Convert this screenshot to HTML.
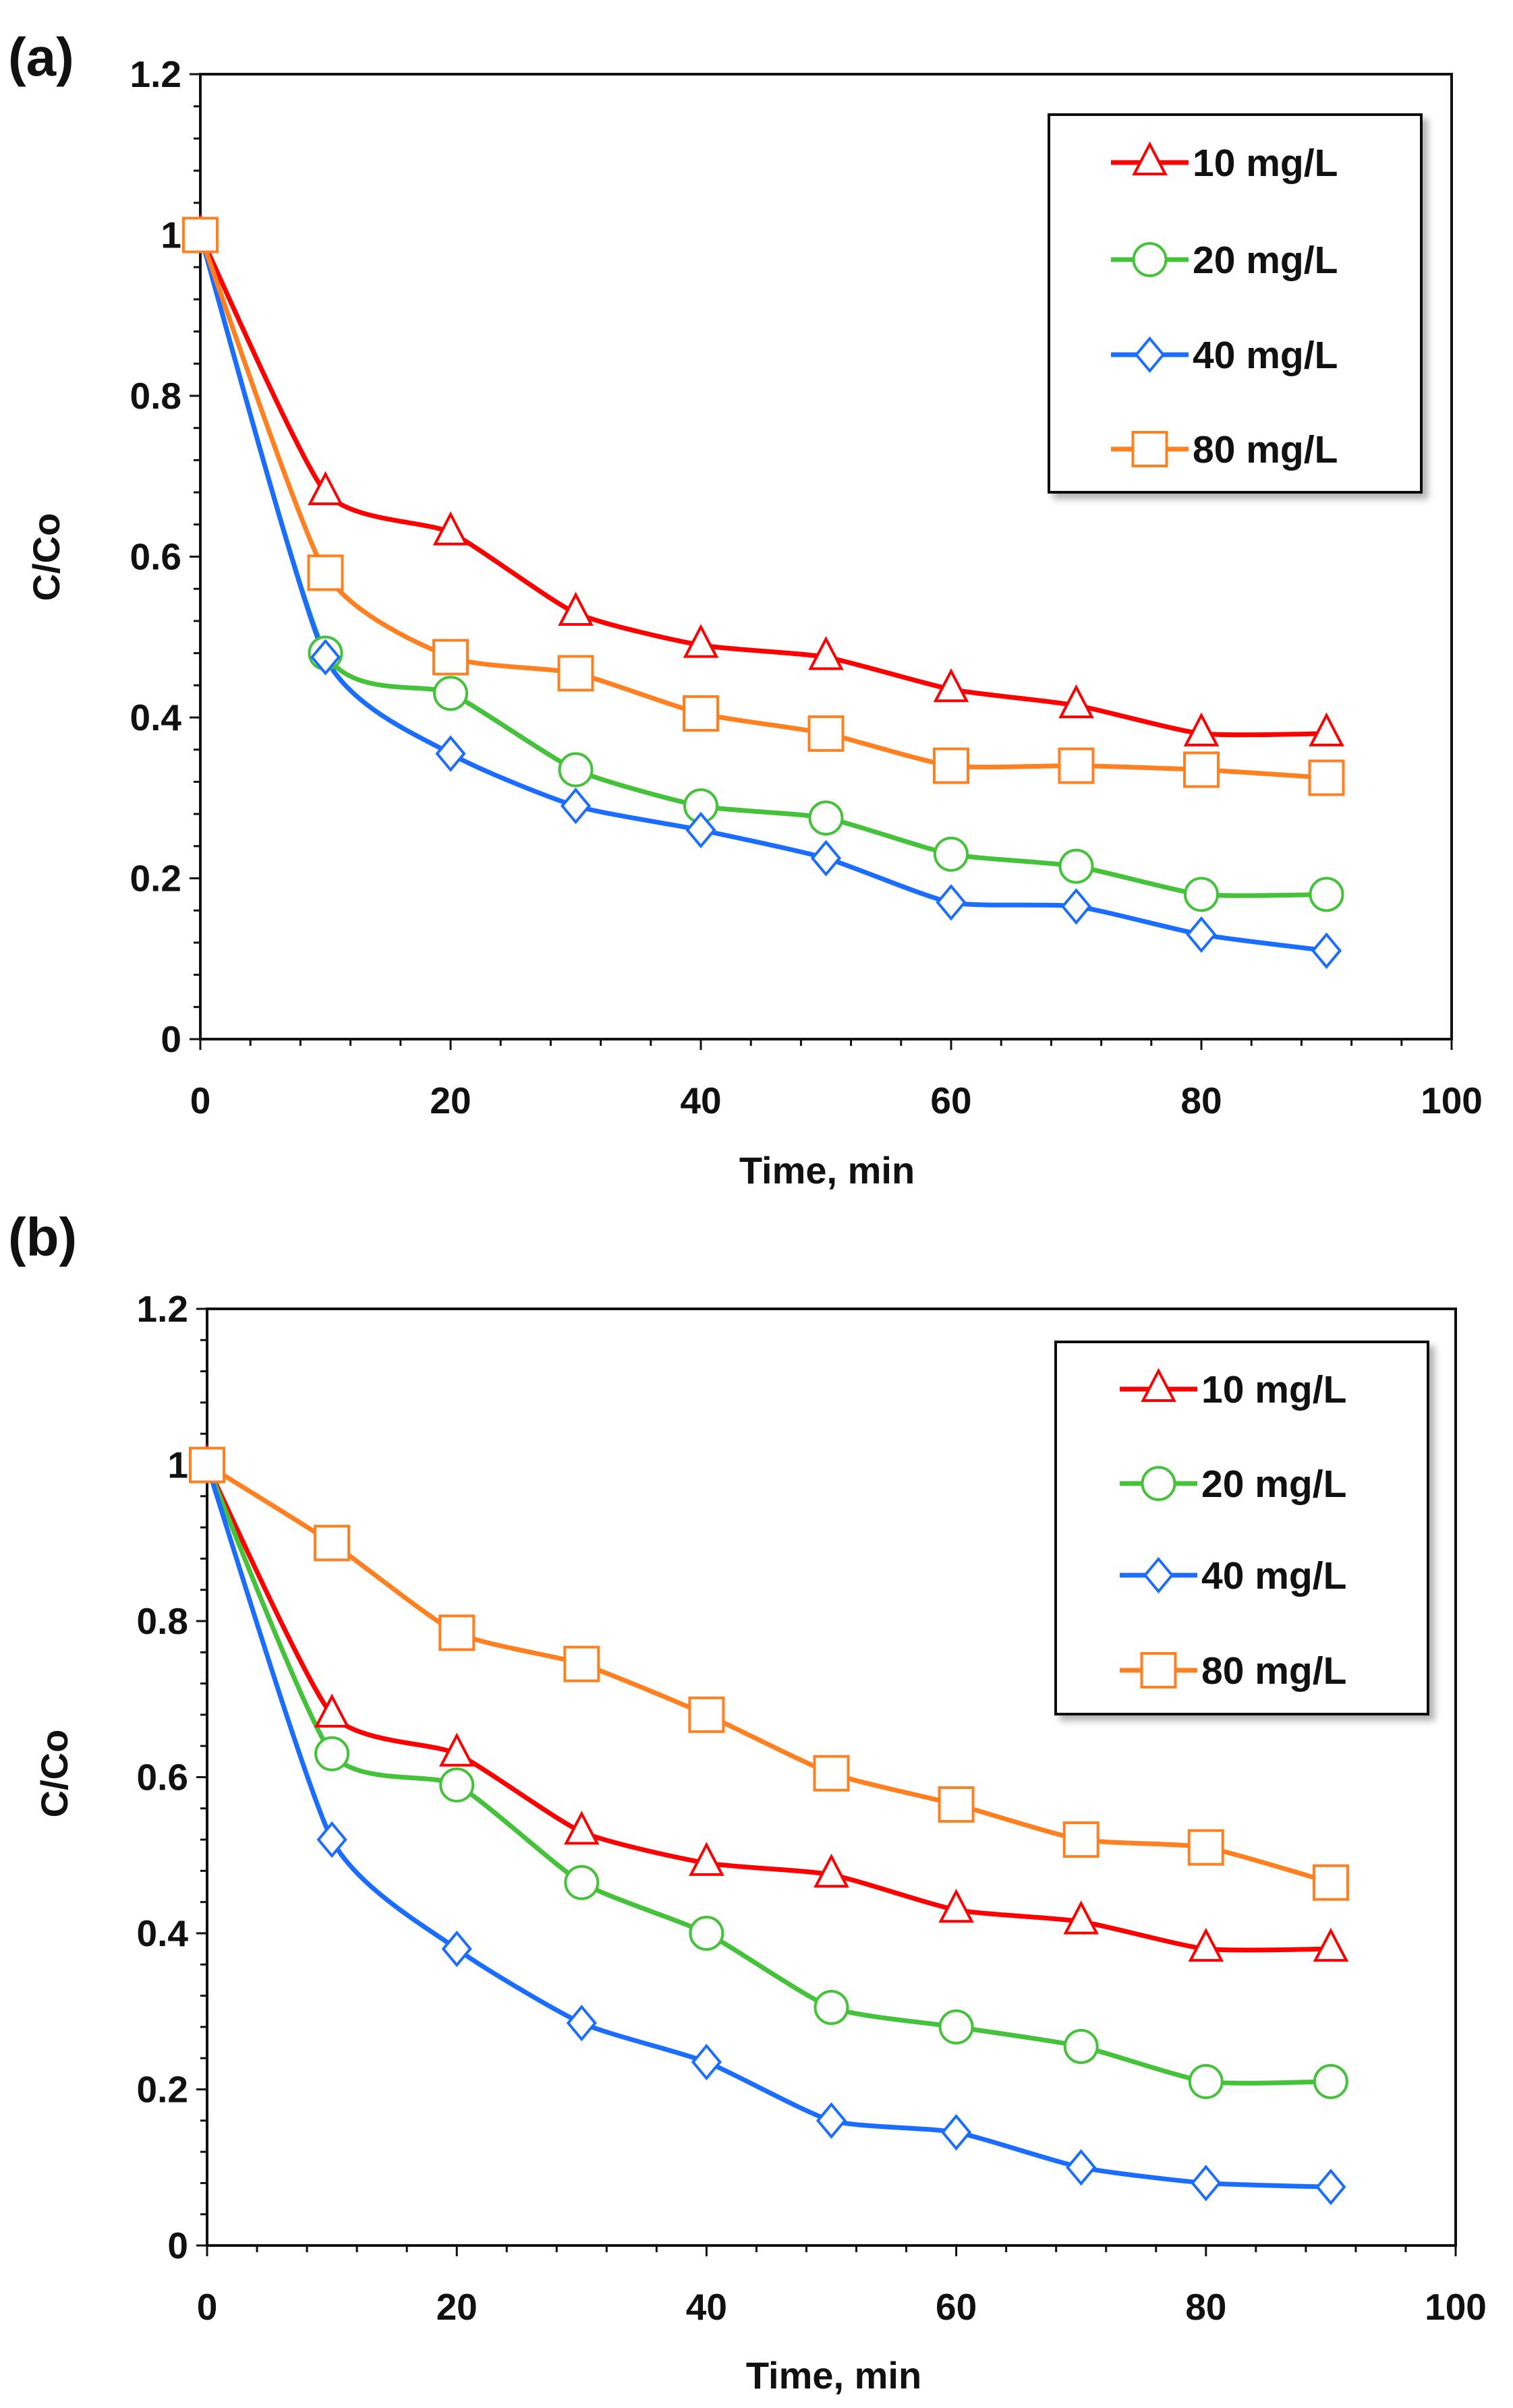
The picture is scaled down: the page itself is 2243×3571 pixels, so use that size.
<!DOCTYPE html>
<html><head><meta charset="utf-8"><style>
html,body{margin:0;padding:0;background:#fff}
svg{display:block}
text{font-family:"Liberation Sans",sans-serif;font-weight:bold;fill:#111}
</style></head><body>
<svg id="fig" xmlns="http://www.w3.org/2000/svg" width="2243" height="3571" viewBox="0 0 2243 3571">
<defs><filter id="sh" x="-10%" y="-10%" width="130%" height="130%"><feDropShadow dx="8" dy="8" stdDeviation="5" flood-color="#000" flood-opacity="0.3"/></filter></defs>
</svg>
<script>
const times = [0,10,20,30,40,50,60,70,80,90];
const seriesNames = ["10 mg/L","20 mg/L","40 mg/L","80 mg/L"];
const a10 = [1,0.68,0.63,0.53,0.49,0.475,0.435,0.415,0.38,0.38];
const a20 = [1,0.48,0.43,0.335,0.29,0.275,0.23,0.215,0.18,0.18];
const a40 = [1,0.475,0.355,0.29,0.26,0.225,0.17,0.165,0.13,0.11];
const a80 = [1,0.58,0.475,0.455,0.405,0.38,0.34,0.34,0.335,0.325];
const b10 = [1,0.68,0.63,0.53,0.49,0.475,0.43,0.415,0.38,0.38];
const b20 = [1,0.63,0.59,0.465,0.40,0.305,0.28,0.255,0.21,0.21];
const b40 = [1,0.52,0.38,0.285,0.235,0.16,0.145,0.10,0.08,0.075];
const b80 = [1,0.90,0.785,0.745,0.68,0.605,0.565,0.52,0.51,0.465];
const xTicks = [0,20,40,60,80,100];
const yTicks = [0,0.2,0.4,0.6,0.8,1,1.2];
const yTickLabels = ["0","0.2","0.4","0.6","0.8","1","1.2"];

const NS="http://www.w3.org/2000/svg";
const svg=document.getElementById('fig');
const colors=["#ff0000","#44c23a","#1a6dff","#ff8020"];
const markerStroke=["#ff0000","#44c23a","#1a6dff","#ff8020"];
const shapes=["tri","circ","diam","sq"];
function mk(tag,attrs,parent){const e=document.createElementNS(NS,tag);for(const k in attrs)e.setAttribute(k,attrs[k]);(parent||svg).appendChild(e);return e;}

function marker(g,shape,cx,cy,col){
  let e;
  if(shape==="tri") e=mk('polygon',{points:`${cx},${cy-27} ${cx-23},${cy+17} ${cx+23},${cy+17}`,fill:"#fff",stroke:col,'stroke-width':4},g);
  else if(shape==="circ") e=mk('circle',{cx:cx,cy:cy,r:24,fill:"#fff",stroke:col,'stroke-width':4},g);
  else if(shape==="diam") e=mk('polygon',{points:`${cx},${cy-24} ${cx+20},${cy} ${cx},${cy+24} ${cx-20},${cy}`,fill:"#fff",stroke:col,'stroke-width':4},g);
  else e=mk('rect',{x:cx-25,y:cy-25,width:50,height:50,fill:"#fff",stroke:col,'stroke-width':4},g);
  return e;
}
function smooth(pts){
  let d=`M${pts[0][0]},${pts[0][1]}`;
  for(let i=0;i<pts.length-1;i++){
    const p0=pts[i-1]||pts[i],p1=pts[i],p2=pts[i+1],p3=pts[i+2]||p2;
    const t=0.1;
    const c1=[p1[0]+(p2[0]-p0[0])*t,p1[1]+(p2[1]-p0[1])*t];
    const c2=[p2[0]-(p3[0]-p1[0])*t,p2[1]-(p3[1]-p1[1])*t];
    d+=` C${c1[0]},${c1[1]} ${c2[0]},${c2[1]} ${p2[0]},${p2[1]}`;
  }
  return d;
}

function panel(id,L,R,T,B,data,leg,label,labelY,ylab,xlab){
  const g=mk('g',{});
  
  
  const X=v=>L+(R-L)*v/100, Y=v=>B-(B-T)*v/1.2;
  const pl=mk('text',{x:12,y:labelY,'font-size':80,'font-weight':'bold'},g);pl.textContent=label;
  
  const frame=mk('rect',{x:L,y:T,width:R-L,height:B-T,fill:'none',stroke:'#111','stroke-width':4},g);
  
  for(let i=0;i<=30;i++){const v=i*0.04;const y=Y(v);const major=i%5===0;
    mk('line',{x1:L-(major?16:10),x2:L,y1:y,y2:y,stroke:'#111','stroke-width':3},g);}
  yTicks.forEach((v,i)=>{const t=mk('text',{x:L-28,y:Y(v)+19,'text-anchor':'end','font-size':55},g);t.textContent=yTickLabels[i];
    });
  for(let i=0;i<=25;i++){const v=i*4;const x=X(v);const major=i%5===0;
    mk('line',{x1:x,x2:x,y1:B,y2:B+(major?16:10),stroke:'#111','stroke-width':3},g);}
  xTicks.forEach(v=>{const t=mk('text',{x:X(v),y:B+110,'text-anchor':'middle','font-size':55},g);t.textContent=v;
    });
  const yl=mk('text',{x:0,y:0,'text-anchor':'middle','font-size':56,transform:`translate(${ylab[0]},${ylab[1]}) rotate(-90)`},g);yl.textContent="C/Co";
  
  const xl=mk('text',{x:xlab[0],y:xlab[1],'text-anchor':'middle','font-size':56},g);xl.textContent="Time, min";
  
  data.forEach((s,k)=>{
    const sg=mk('g',{},g);
    
    
    const pts=times.map((t,i)=>[X(t),Y(s[i])]);
    mk('path',{d:smooth(pts),fill:'none',stroke:colors[k],'stroke-width':7,'stroke-linejoin':'round'},sg);
  });
  data.forEach((s,k)=>{
    const sg=mk('g',{},g);
    
    
    times.forEach((t,i)=>{const m=marker(sg,shapes[k],X(t),Y(s[i]),markerStroke[k]);
      });
  });
  const lg=mk('g',{},g);
  
  
  mk('rect',{x:leg.x,y:leg.y,width:leg.w,height:leg.h,fill:'#fff',stroke:'#111','stroke-width':4,filter:'url(#sh)'},lg);
  leg.rows.forEach((ry,k)=>{
    const eg=mk('g',{},lg);
    
    
    mk('line',{x1:leg.lx1,x2:leg.lx2,y1:ry,y2:ry,stroke:colors[k],'stroke-width':7},eg);
    marker(eg,shapes[k],(leg.lx1+leg.lx2)/2,ry,markerStroke[k]);
    const t=mk('text',{x:leg.tx,y:ry+20,'font-size':57},eg);t.textContent=seriesNames[k];
  });
}
panel('a',297,2152,110,1541,[a10,a20,a40,a80],
 {x:1555,y:170,w:552,h:560,lx1:1647,lx2:1762,tx:1768,rows:[241,385,526,666]},
 '(a)',112,[88,826],[1226,1755]);
panel('b',307,2158,1941,3330,[b10,b20,b40,b80],
 {x:1565,y:1990,w:552,h:552,lx1:1660,lx2:1775,tx:1781,rows:[2060,2200,2336,2477]},
 '(b)',1862,[100,2630],[1236,3542]);
</script>
</body></html>
